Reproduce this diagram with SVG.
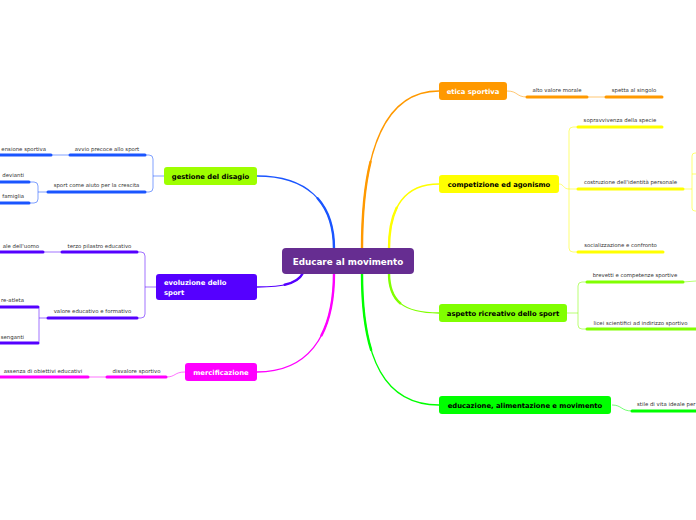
<svg xmlns="http://www.w3.org/2000/svg" width="696" height="520" viewBox="0 0 696 520">
<style>
.bg{fill:#ffffff}
.main{fill:none;stroke-width:1.3;stroke-linecap:round}
.thick{fill:none;stroke-width:2.4;stroke-linecap:round;stroke-dasharray:45 200}
.sub{fill:none;stroke-width:1;opacity:0.55}
.ul{fill:none;stroke-width:3;stroke-linecap:round}
.nt{font-family:"DejaVu Sans",sans-serif;font-weight:bold;font-size:6.8px;text-anchor:middle}
.st{font-family:"DejaVu Sans",sans-serif;font-size:5.4px;fill:#333333;text-anchor:middle}
.blue{stroke:#1a55ff}.vio{stroke:#5500ff}.mag{stroke:#ff00ff}.ora{stroke:#ff9900}.yel{stroke:#ffff00}.lim{stroke:#80ff00}.grn{stroke:#00ff00}
</style>
<defs>
<path id="cBlue" d="M334,249 C334,200 305,176 257,176"/>
<path id="cVio" d="M303,273 C298,283 285,287 257,287"/>
<path id="cMag" d="M334,273 C334,340 305,372 257,372"/>
<path id="cOra" d="M362,249 C362,150 385,91 439,91"/>
<path id="cYel" d="M389,249 C389,210 402,184 439,184"/>
<path id="cLim" d="M389,273 C389,300 402,313 439,313"/>
<path id="cGrn" d="M362,273 C362,360 385,405 439,405"/>
</defs>
<rect class="bg" x="0" y="0" width="696" height="520"/>
<g id="connectors">
<path class="main blue" d="M334,249 C334,200 305,176 257,176"/>
<path class="thick blue" pathLength="100" d="M334,249 C334,200 305,176 257,176"/>
<path class="main vio" d="M303,273 C298,283 285,287 257,287"/>
<path class="thick vio" pathLength="100" d="M303,273 C298,283 285,287 257,287"/>
<path class="main mag" d="M334,273 C334,340 305,372 257,372"/>
<path class="thick mag" pathLength="100" d="M334,273 C334,340 305,372 257,372"/>
<path class="main ora" d="M362,249 C362,150 385,91 439,91"/>
<path class="thick ora" pathLength="100" d="M362,249 C362,150 385,91 439,91"/>
<path class="main yel" d="M389,249 C389,210 402,184 439,184"/>
<path class="thick yel" pathLength="100" d="M389,249 C389,210 402,184 439,184"/>
<path class="main lim" d="M389,273 C389,300 402,313 439,313"/>
<path class="thick lim" pathLength="100" d="M389,273 C389,300 402,313 439,313"/>
<path class="main grn" d="M362,273 C362,360 385,405 439,405"/>
<path class="thick grn" pathLength="100" d="M362,273 C362,360 385,405 439,405"/>
<path class="sub blue" d="M164,176 L153,176 M145,155 L149,155 Q153,155 153,159 L153,188 Q153,192 149,192 L145,192"/>
<path class="sub blue" d="M51,155 L70,155"/>
<path class="sub blue" d="M29,182 L34,182 Q38,182 38,186 L38,199 Q38,203 34,203 L29,203 M38,192 L48,192"/>
<path class="sub vio" d="M156,287 L145,287 M137,252 L141,252 Q145,252 145,256 L145,314 Q145,318 141,318 L137,318"/>
<path class="sub vio" d="M43,252 L62,252"/>
<path class="sub vio" d="M38,307 Q39,307 39,309 L39,341 Q39,343 38,343 M39,318 L48,318"/>
<path class="sub mag" d="M88,377 L107,377 M166,377 C176,377 174,372 185,372"/>
<path class="sub ora" d="M507,91 C518,91 516,97 527,97 M587,97 L606,97"/>
<path class="sub yel" d="M559,184 C564,184 563,189 569,189 M578,127 L573,127 Q569,127 569,131 L569,248 Q569,252 573,252 L578,252 M569,189 L578,189"/>
<path class="sub yel" d="M683,189 L692,189 M696,153 L695,153 Q692,153 692,156 L692,208 Q692,211 695,211 L696,211 M692,174 L696,174"/>
<path class="sub lim" d="M567,313 L578,313 M587,282 L582,282 Q578,282 578,286 L578,325 Q578,329 582,329 L587,329 M683,282 L696,281"/>
<path class="sub grn" d="M612,405 C622,405 621,411 632,411"/>
</g>
<g id="center">
<rect x="282" y="248" width="132" height="26" rx="4" fill="#662d91"/>
<text x="348" y="265" font-family="DejaVu Sans, sans-serif" font-weight="bold" font-size="8.8" fill="#ffffff" text-anchor="middle">Educare al movimento</text>
</g>
<g id="gestione">
<rect x="164" y="167" width="93" height="18" rx="3" fill="#9eff00"/>
<text class="nt" x="210.5" y="178.5" fill="#000000">gestione del disagio</text>
</g>
<g id="avvio"><path class="ul blue" d="M70,155 L145,155"/><text class="st" x="107" y="151">avvio precoce allo sport</text></g>
<g id="dimensione"><path class="ul blue" d="M0,155 L51,155"/><text class="st" x="46" y="151" style="text-anchor:end">ensione sportiva</text></g>
<g id="aiuto"><path class="ul blue" d="M48,192 L145,192"/><text class="st" x="96.5" y="187">sport come aiuto per la crescita</text></g>
<g id="devianti"><path class="ul blue" d="M0,182 L29,182"/><text class="st" x="24" y="177" style="text-anchor:end">devianti</text></g>
<g id="famiglia"><path class="ul blue" d="M0,203 L29,203"/><text class="st" x="24" y="198" style="text-anchor:end">famiglia</text></g>
<g id="evoluzione">
<rect x="156" y="274" width="101" height="26" rx="3" fill="#5500ff"/>
<text class="nt" x="164" y="285" fill="#ffffff" style="text-anchor:start">evoluzione dello</text>
<text class="nt" x="164" y="294.5" fill="#ffffff" style="text-anchor:start">sport</text>
</g>
<g id="terzo"><path class="ul vio" d="M62,252 L137,252"/><text class="st" x="99.5" y="247.5">terzo pilastro educativo</text></g>
<g id="sociale"><path class="ul vio" d="M0,252 L43,252"/><text class="st" x="39" y="247.5" style="text-anchor:end">ale dell'uomo</text></g>
<g id="valore"><path class="ul vio" d="M48,318 L137,318"/><text class="st" x="92.5" y="313">valore educativo e formativo</text></g>
<g id="atleta"><path class="ul vio" d="M0,307 L38,307"/><text class="st" x="24" y="302" style="text-anchor:end">re-atleta</text></g>
<g id="insegnanti"><path class="ul vio" d="M0,343 L38,343"/><text class="st" x="24" y="339" style="text-anchor:end">senganti</text></g>
<g id="mercificazione">
<rect x="185" y="363" width="72" height="18" rx="3" fill="#ff00ff"/>
<text class="nt" x="221" y="374.5" fill="#ffffff">mercificazione</text>
</g>
<g id="disvalore"><path class="ul mag" d="M107,377 L166,377"/><text class="st" x="136.5" y="373">disvalore sportivo</text></g>
<g id="assenza"><path class="ul mag" d="M0,377 L88,377"/><text class="st" x="43" y="373">assenza di obiettivi educativi</text></g>
<g id="etica">
<rect x="439" y="82" width="68" height="18" rx="3" fill="#ff9900"/>
<text class="nt" x="473" y="93.5" fill="#ffffff">etica sportiva</text>
</g>
<g id="alto"><path class="ul ora" d="M527,97 L587,97"/><text class="st" x="557" y="92">alto valore morale</text></g>
<g id="spetta"><path class="ul ora" d="M606,97 L662,97"/><text class="st" x="634" y="92">spetta al singolo</text></g>
<g id="competizione">
<rect x="439" y="175" width="120" height="18" rx="3" fill="#ffff00"/>
<text class="nt" x="499" y="186.5" fill="#000000">competizione ed agonismo</text>
</g>
<g id="sopravvivenza"><path class="ul yel" d="M578,127 L662,127"/><text class="st" x="620" y="122">sopravvivenza della specie</text></g>
<g id="costruzione"><path class="ul yel" d="M578,189 L683,189"/><text class="st" x="630.5" y="184">costruzione dell'identità personale</text></g>
<g id="socializzazione"><path class="ul yel" d="M578,252 L663,252"/><text class="st" x="620.5" y="247">socializzazione e confronto</text></g>
<g id="aspetto">
<rect x="439" y="304" width="128" height="18" rx="3" fill="#80ff00"/>
<text class="nt" x="503" y="315.5" fill="#000000">aspetto ricreativo dello sport</text>
</g>
<g id="brevetti"><path class="ul lim" d="M587,282 L683,282"/><text class="st" x="635" y="277">brevetti e competenze sportive</text></g>
<g id="licei"><path class="ul lim" d="M587,329 L698,329"/><text class="st" x="640.5" y="325">licei scientifici ad indirizzo sportivo</text></g>
<g id="educazione">
<rect x="439" y="396" width="172" height="18" rx="3" fill="#00ff00"/>
<text class="nt" x="525" y="407.5" fill="#000000">educazione, alimentazione e movimento</text>
</g>
<g id="stile"><path class="ul grn" d="M632,411 L698,411"/><text class="st" x="637" y="406" style="text-anchor:start">stile di vita ideale per</text></g>
</svg>
